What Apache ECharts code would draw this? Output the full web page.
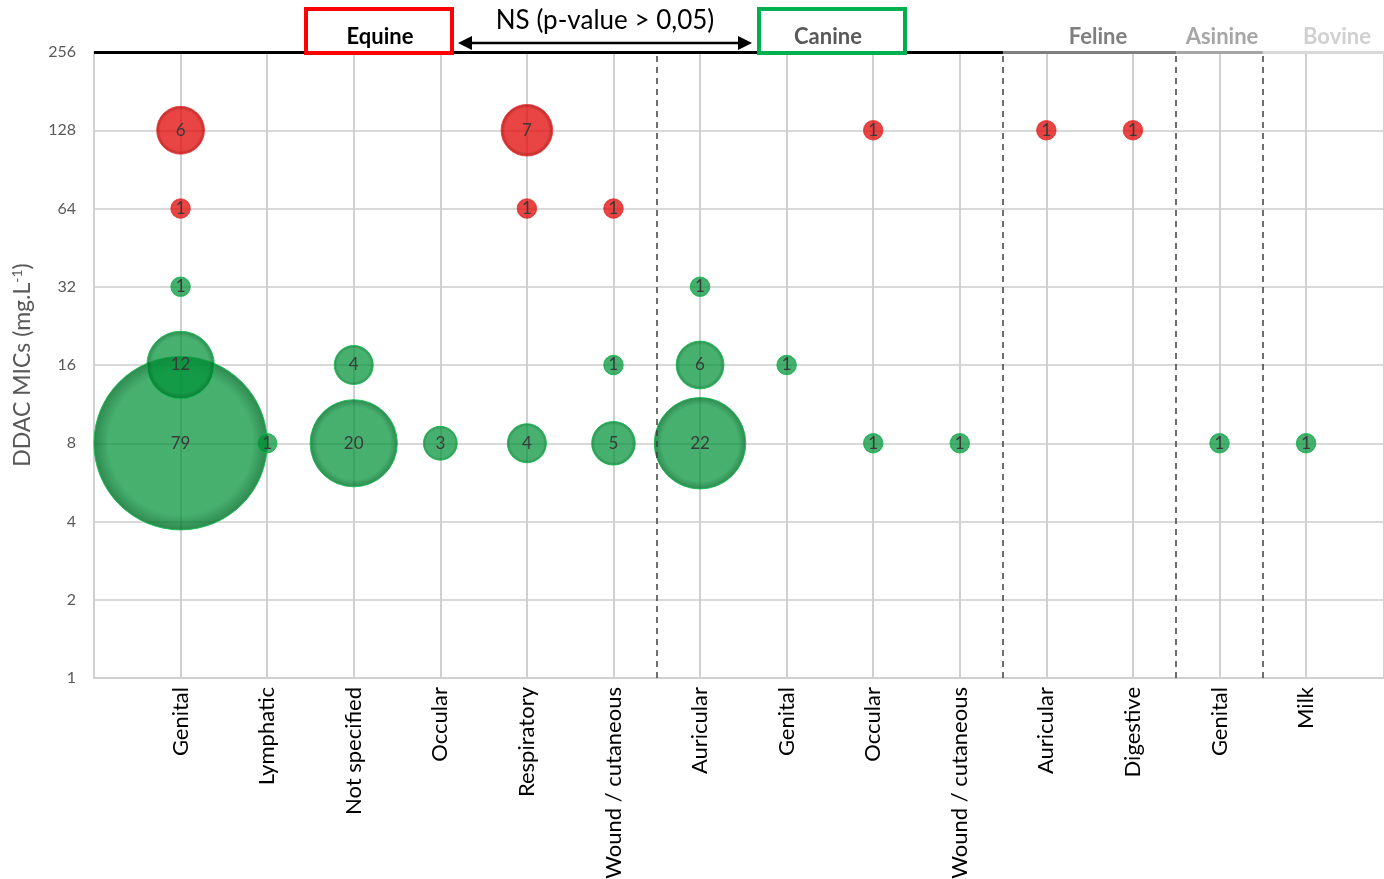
<!DOCTYPE html>
<html>
<head>
<meta charset="utf-8">
<script src="https://cdn.jsdelivr.net/npm/echarts@6/dist/echarts.min.js"></script>
<style>
  html, body { margin: 0; padding: 0; background: #fff; }
  #chart { width: 1384px; height: 879px; }
</style>
</head>
<body>
<div id="chart"></div>
<script>
const chart = echarts.init(document.querySelector('#chart'));

// sites, grouped by host species
const categories = [
    'Genital', 'Lymphatic', 'Not specified', 'Occular', 'Respiratory', 'Wound / cutaneous',
    'Auricular', 'Genital', 'Occular', 'Wound / cutaneous',
    'Auricular', 'Digestive',
    'Genital',
    'Milk'
];
const yTicks = [1, 2, 4, 8, 16, 32, 64, 128, 256];

// [category position (1-based), MIC, number of isolates]
const greenData = [
    [1, 8, 79], [1, 16, 12], [1, 32, 1],
    [2, 8, 1],
    [3, 8, 20], [3, 16, 4],
    [4, 8, 3],
    [5, 8, 4],
    [6, 8, 5], [6, 16, 1],
    [7, 8, 22], [7, 16, 6], [7, 32, 1],
    [8, 16, 1],
    [9, 8, 1],
    [10, 8, 1],
    [13, 8, 1],
    [14, 8, 1]
];
const redData = [
    [1, 128, 6], [1, 64, 1],
    [5, 128, 7], [5, 64, 1],
    [6, 64, 1],
    [9, 128, 1],
    [11, 128, 1],
    [12, 128, 1]
];
// group separators (between categories)
const separators = [6.5, 10.5, 12.5, 13.5];
// header underline segments: [from, to, colour]
const headerLines = [
    [0, 10.5, '#000000'],
    [10.5, 12.5, '#7f7f7f'],
    [12.5, 13.5, '#a6a6a6'],
    [13.5, 14.9, '#d9d9d9']
];

const FONT = 'Lato, "Open Sans", sans-serif';

const bubbleSize = (val) => 19.5 * Math.sqrt(val[2]);

const bubbleFill = (inner, edge) => ({
    type: 'radial', x: 0.5, y: 0.5, r: 0.5,
    colorStops: [
        { offset: 0, color: inner },
        { offset: 0.82, color: inner },
        { offset: 1, color: edge }
    ]
});

const bubbleLabel = {
    show: true,
    position: 'inside',
    formatter: (p) => p.value[2],
    color: '#3a3a3a',
    fontSize: 17,
    fontFamily: FONT
};

chart.setOption({
    animation: false,
    textStyle: { fontFamily: FONT },
    grid: { left: 94, right: 0, top: 52, bottom: 201, outerBoundsMode: 'none' },
    xAxis: {
        type: 'value',
        min: 0,
        max: 14.9,
        interval: 1,
        axisLine: { show: true, lineStyle: { color: '#d0d0d0', width: 2 } },
        axisTick: { show: false },
        splitLine: { show: true, lineStyle: { color: '#d0d0d0', width: 2 } },
        axisLabel: {
            rotate: 90,
            margin: 9,
            fontSize: 22,
            color: '#000',
            fontFamily: FONT,
            showMaxLabel: false,
            formatter: (v) => (v >= 1 && v <= categories.length && v % 1 === 0) ? categories[v - 1] : ''
        }
    },
    yAxis: {
        type: 'log',
        logBase: 2,
        min: 1,
        max: 256,
        axisLine: { show: true, lineStyle: { color: '#d0d0d0', width: 2 } },
        axisTick: { show: false },
        splitLine: { show: true, lineStyle: { color: '#d9d9d9', width: 2 } },
        axisLabel: { color: '#595959', fontSize: 16, margin: 18, fontFamily: FONT },
        name: '{a|DDAC MICs (mg.L}{b|-1}{a|)}',
        nameLocation: 'middle',
        nameGap: 58,
        nameTextStyle: {
            rich: {
                a: { fontSize: 23, color: '#595959', fontFamily: FONT },
                b: { fontSize: 14, color: '#595959', fontFamily: FONT, padding: [0, 0, 12, 0] }
            }
        }
    },
    series: [
        {
            name: 'susceptible',
            type: 'scatter',
            data: greenData,
            symbolSize: bubbleSize,
            itemStyle: {
                opacity: 1,
                color: bubbleFill('rgba(0,146,56,0.72)', 'rgba(0,110,40,0.82)'),
                borderColor: 'rgba(20,190,80,0.9)',
                borderWidth: 1
            },
            label: bubbleLabel,
            z: 3
        },
        {
            name: 'resistant',
            type: 'scatter',
            data: redData,
            symbolSize: bubbleSize,
            itemStyle: {
                opacity: 1,
                color: bubbleFill('rgba(226,16,16,0.78)', 'rgba(170,0,0,0.85)'),
                borderColor: 'rgba(240,60,60,0.9)',
                borderWidth: 1
            },
            label: bubbleLabel,
            z: 3,
            markLine: {
                silent: true,
                symbol: 'none',
                label: { show: false },
                data: separators.map((x) => ({
                    xAxis: x,
                    lineStyle: { color: '#404040', width: 1.5, type: [6, 5] }
                })).concat(headerLines.map(([a, b, c]) => [
                    { coord: [a, 256], lineStyle: { color: c, width: 3, type: 'solid' } },
                    { coord: [b, 256] }
                ]))
            }
        }
    ],
    graphic: [
        {
            type: 'rect', z: 10,
            shape: { x: 306, y: 9, width: 146, height: 44 },
            style: { fill: '#fff', stroke: '#ff0000', lineWidth: 4 }
        },
        {
            type: 'text', z: 11, x: 380, y: 37,
            style: { text: 'Equine', fill: '#000', font: 'bold 22px ' + FONT, align: 'center', verticalAlign: 'middle' }
        },
        {
            type: 'rect', z: 10,
            shape: { x: 759, y: 9, width: 146, height: 44 },
            style: { fill: '#fff', stroke: '#00b050', lineWidth: 4 }
        },
        {
            type: 'text', z: 11, x: 828, y: 37,
            style: { text: 'Canine', fill: '#595959', font: 'bold 22px ' + FONT, align: 'center', verticalAlign: 'middle' }
        },
        {
            type: 'text', z: 11, x: 605, y: 21,
            style: { text: 'NS (p-value > 0,05)', fill: '#000', font: '26px ' + FONT, align: 'center', verticalAlign: 'middle' }
        },
        {
            type: 'line', z: 11,
            shape: { x1: 470, y1: 43, x2: 740, y2: 43 },
            style: { stroke: '#000', lineWidth: 2.5 }
        },
        {
            type: 'polygon', z: 11,
            shape: { points: [[458, 43], [472, 36], [472, 50]] },
            style: { fill: '#000' }
        },
        {
            type: 'polygon', z: 11,
            shape: { points: [[752, 43], [738, 36], [738, 50]] },
            style: { fill: '#000' }
        },
        {
            type: 'text', z: 11, x: 1098, y: 37,
            style: { text: 'Feline', fill: '#7f7f7f', font: 'bold 22px ' + FONT, align: 'center', verticalAlign: 'middle' }
        },
        {
            type: 'text', z: 11, x: 1222, y: 37,
            style: { text: 'Asinine', fill: '#a6a6a6', font: 'bold 22px ' + FONT, align: 'center', verticalAlign: 'middle' }
        },
        {
            type: 'text', z: 11, x: 1337, y: 37,
            style: { text: 'Bovine', fill: '#d0d0d0', font: 'bold 22px ' + FONT, align: 'center', verticalAlign: 'middle' }
        }
    ]
});
</script>
</body>
</html>
